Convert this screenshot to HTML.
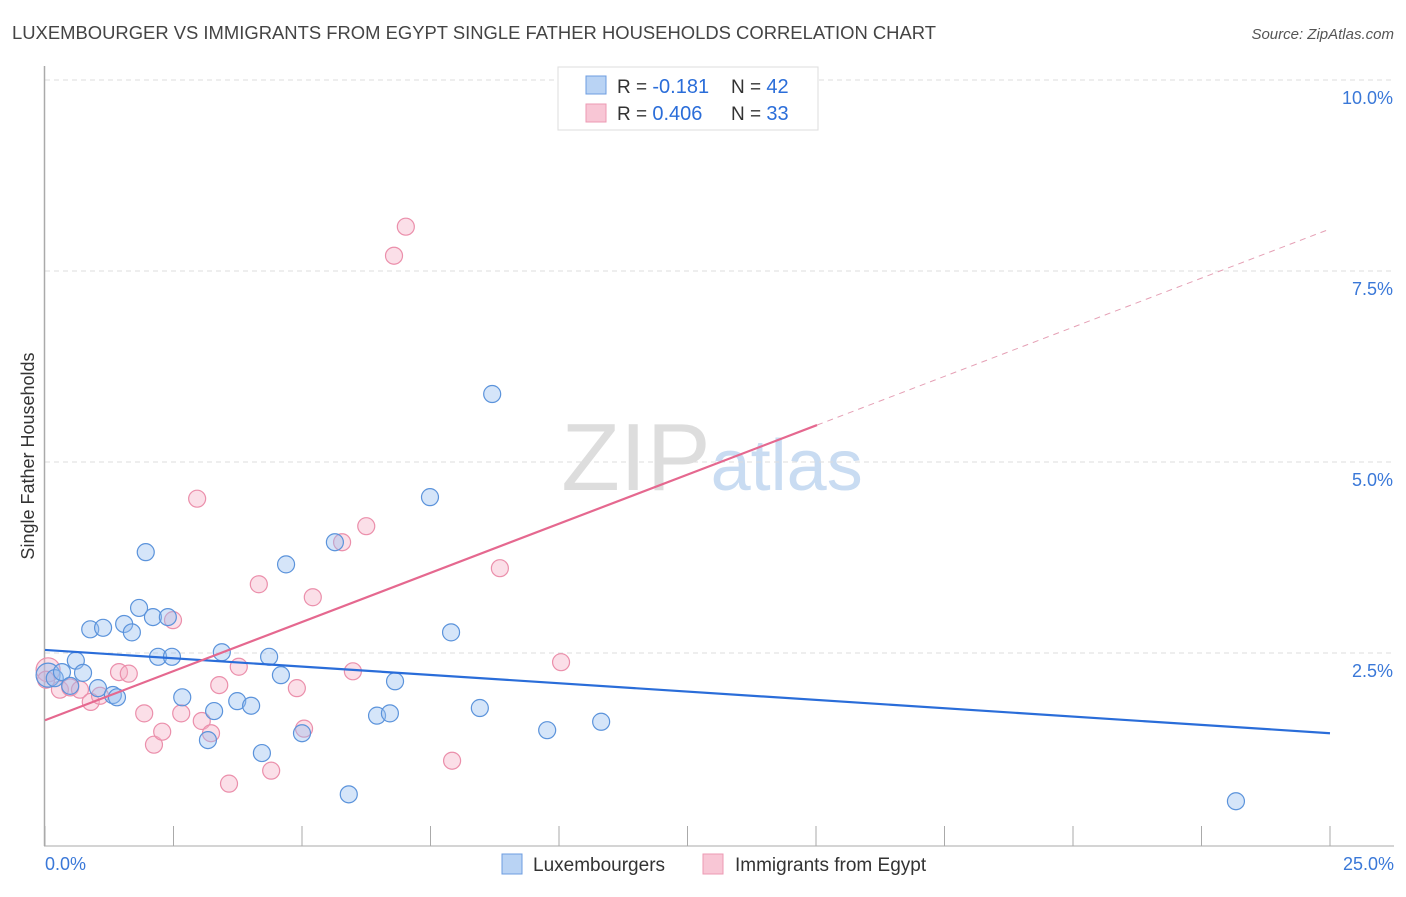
<!DOCTYPE html>
<html><head><meta charset="utf-8"><style>
body{margin:0;background:#fff;font-family:"Liberation Sans",sans-serif;}
svg text{font-family:"Liberation Sans",sans-serif;}
</style></head><body>
<svg id="chart" width="1406" height="892" viewBox="0 0 1406 892" xmlns="http://www.w3.org/2000/svg">
<text x="12" y="39" font-size="18" fill="#444" textLength="924" lengthAdjust="spacingAndGlyphs">LUXEMBOURGER VS IMMIGRANTS FROM EGYPT SINGLE FATHER HOUSEHOLDS CORRELATION CHART</text>
<text x="1394" y="39" font-size="15" fill="#555" text-anchor="end" font-style="italic">Source: ZipAtlas.com</text>
<text x="712" y="490" font-size="96" fill="#ddd" text-anchor="middle" font-family="Liberation Serif"><tspan>ZIP</tspan><tspan fill="#c9dcf2" font-family="Liberation Sans" font-size="72">atlas</tspan></text>
<g id="grid"></g>
<line x1="44.5" y1="66" x2="44.5" y2="846" stroke="#aaa" stroke-width="1.5"/>
<line x1="44" y1="846" x2="1394" y2="846" stroke="#aaa" stroke-width="1"/>
<g id="ticks"></g>
<text transform="translate(34,456) rotate(-90)" font-size="18" fill="#333" text-anchor="middle">Single Father Households</text>
<text x="45" y="870" font-size="18" fill="#3a78d8">0.0%</text>
<text x="1394" y="870" font-size="18" fill="#3a78d8" text-anchor="end">25.0%</text>
<g id="points"></g>
<g id="trends"></g>
<g>
<rect x="558" y="67" width="260" height="63" fill="#fff" stroke="#ddd"/>
<rect x="586" y="76" width="20" height="18" fill="#b9d3f4" stroke="#6d9de0"/>
<rect x="586" y="104" width="20" height="18" fill="#f8c6d5" stroke="#ec9ab3"/>
<text x="617" y="93" font-size="19" fill="#333">R = <tspan fill="#2a6dd9" font-size="20">-0.181</tspan></text>
<text x="731" y="93" font-size="19" fill="#333">N = <tspan fill="#2a6dd9" font-size="20">42</tspan></text>
<text x="617" y="120" font-size="19" fill="#333">R = <tspan fill="#2a6dd9" font-size="20">0.406</tspan></text>
<text x="731" y="120" font-size="19" fill="#333">N = <tspan fill="#2a6dd9" font-size="20">33</tspan></text>
</g>
<g>
<rect x="502" y="854" width="20" height="20" fill="#b9d3f4" stroke="#6d9de0"/>
<text x="533" y="871" font-size="19" fill="#333">Luxembourgers</text>
<rect x="703" y="854" width="20" height="20" fill="#f8c6d5" stroke="#ec9ab3"/>
<text x="735" y="871" font-size="19" fill="#333">Immigrants from Egypt</text>
</g>
</svg>
<script>
const yTicks=[2.5,5.0,7.5,10.0];
const xTicks=[0,2.5,5,7.5,10,12.5,15,17.5,20,22.5,25];
const luxX=[0.06,0.19,0.33,0.49,0.60,0.74,1.03,0.88,1.13,1.32,1.40,1.54,1.69,1.83,1.96,2.10,2.20,2.39,2.47,2.67,3.17,3.29,3.44,3.74,4.01,4.22,4.36,4.59,4.69,5.00,5.64,5.91,6.46,6.71,6.81,7.49,7.90,8.46,8.70,9.77,10.82,23.17];
const luxY=[2.21,2.17,2.25,2.07,2.40,2.24,2.04,2.81,2.83,1.95,1.92,2.88,2.77,3.09,3.82,2.97,2.45,2.97,2.45,1.92,1.36,1.74,2.51,1.87,1.81,1.19,2.45,2.21,3.66,1.45,3.95,0.65,1.68,1.71,2.13,4.54,2.77,1.78,5.89,1.49,1.60,0.56];
const egyX=[0.06,0.29,0.49,0.68,0.89,1.07,1.44,1.63,1.93,2.12,2.28,2.49,2.65,2.96,3.05,3.23,3.39,3.58,3.77,4.16,4.40,4.90,5.04,5.21,5.78,5.99,6.25,6.79,7.02,7.92,8.85,10.04,0.02];
const egyY=[2.28,2.02,2.05,2.02,1.86,1.94,2.25,2.23,1.71,1.30,1.47,2.93,1.71,4.52,1.61,1.45,2.08,0.79,2.32,3.40,0.96,2.04,1.51,3.23,3.95,2.26,4.16,7.70,8.08,1.09,3.61,2.38,2.15];
const luxTrend=[2.54,1.45];
const egyTrend=[1.62,8.05];
const egySolidEnd=15.02;
const NS='http://www.w3.org/2000/svg';
const xs=v=>45+v*51.4, ys=v=>844-v*76.4;
function mk(tag,attrs,parent){const e=document.createElementNS(NS,tag);for(const k in attrs)e.setAttribute(k,attrs[k]);document.getElementById(parent).appendChild(e);return e;}
yTicks.forEach(t=>{
 const l=mk('line',{x1:45,x2:1394,y1:ys(t),y2:ys(t),stroke:'#ddd','stroke-dasharray':'5,4'},'grid');
 
 
 const tx=mk('text',{x:1393,y:ys(t)+24,'font-size':18,fill:'#3a78d8','text-anchor':'end'},'grid');
 
 
 tx.textContent=t.toFixed(1)+'%';
});
xTicks.forEach(t=>{
 const l=mk('line',{x1:xs(t),x2:xs(t),y1:826,y2:846,stroke:'#aaa'},'ticks');
 
 
});
function dots(X,Y,fill,stroke,name){X.forEach((x,i)=>{
 const c=mk('circle',{cx:xs(x),cy:ys(Y[i]),r:(i===0?12:8.5),fill:fill,stroke:stroke,'stroke-width':1.2},'points');
 
 
});}
dots(egyX,egyY,'rgba(246,175,197,0.4)','#eb8fab','egypt-point');
dots(luxX,luxY,'rgba(150,190,240,0.4)','#5b93db','luxembourger-point');
let l=mk('line',{x1:xs(0),y1:ys(luxTrend[0]),x2:xs(25),y2:ys(luxTrend[1]),stroke:'#2a6dd9','stroke-width':2.2},'trends');


const ey=v=>egyTrend[0]+(egyTrend[1]-egyTrend[0])*v/25;
l=mk('line',{x1:xs(0),y1:ys(ey(0)),x2:xs(egySolidEnd),y2:ys(ey(egySolidEnd)),stroke:'#e5688f','stroke-width':2.2},'trends');


l=mk('line',{x1:xs(egySolidEnd),y1:ys(ey(egySolidEnd)),x2:xs(25),y2:ys(ey(25)),stroke:'#e5a0b5','stroke-width':1,'stroke-dasharray':'6,5'},'trends');


</script>
</body></html>
